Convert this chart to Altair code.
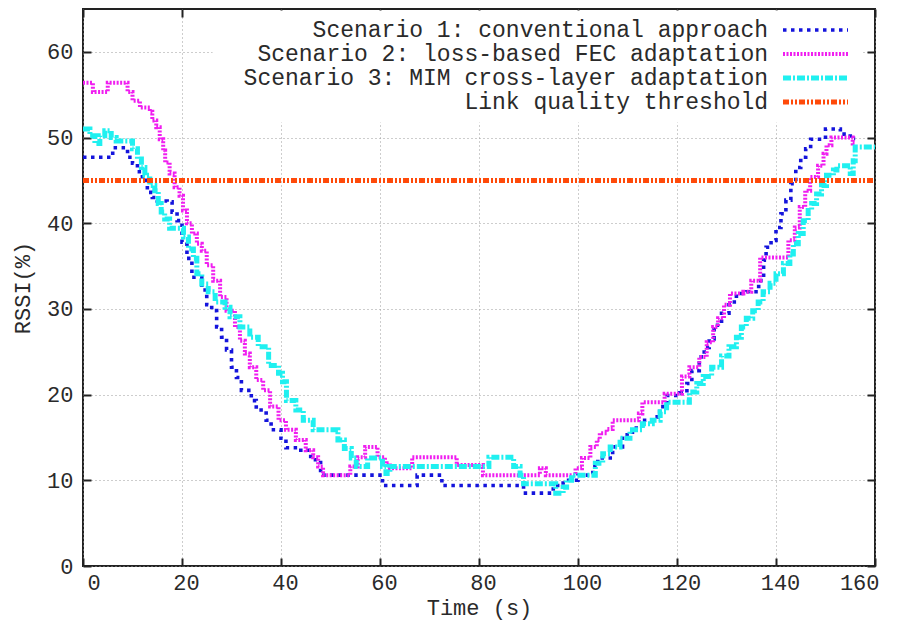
import altair as alt
import pandas as pd

names = [
    "Scenario 1: conventional approach",
    "Scenario 2: loss-based FEC adaptation",
    "Scenario 3: MIM cross-layer adaptation",
    "Link quality threshold",
]

s1_t = [0, 6, 9, 10, 11, 12, 13, 14, 15, 17, 18, 19, 20, 21, 22, 24, 25, 26, 27, 28, 29, 30, 31, 32,
        34, 35, 37, 38, 40, 41, 44, 46, 48, 60.5, 67.5, 72.5, 89, 95, 97, 100, 103, 104, 107, 109, 111,
        113, 115, 116.5, 118, 120.5, 122, 123, 124.5, 125.5, 126.5, 127.5, 129, 130.5, 132, 134, 136.5,
        137.5, 138, 139, 140, 141, 142, 143, 144, 145, 146, 147, 150, 153, 155, 156]
s1_v = [47.7, 48.8, 47.7, 47.0, 46.0, 45.0, 43.6, 43.0, 42.6, 42.5, 41.3, 40.3, 37.8, 35.9, 33.7, 32.2,
        30.5, 29.8, 27.9, 26.7, 25.2, 23.2, 22.0, 20.5, 19.3, 18.2, 17.0, 15.9, 14.9, 13.8, 13.5, 12.4,
        10.6, 9.4, 10.6, 9.4, 8.5, 9.4, 10.0, 10.6, 11.6, 12.6, 13.9, 15.3, 16.1, 17.0, 17.4, 18.6, 19.9,
        20.2, 21.3, 22.8, 24.4, 25.5, 26.5, 28.1, 29.5, 30.8, 31.8, 32.0, 33.3, 35.7, 37.2, 38.0, 39.5,
        41.1, 42.7, 44.6, 46.5, 47.7, 48.7, 49.8, 51.0, 50.4, 49.9, 49.9]

s2_t = [0, 2, 5, 9, 10, 11.5, 13.5, 14, 14.8, 15.5, 16.2, 16.6, 17.5, 18.5, 19.5, 20.2, 21, 22, 23, 24,
        25, 26.3, 27.7, 29, 30.7, 31.7, 32.7, 33.7, 35, 36.4, 37.8, 39.5, 41, 43, 45, 46.5, 47.5, 48.5,
        54, 55.5, 57, 59.5, 61, 62, 66.5, 75.5, 80.8, 92.3, 93.5, 99.5, 100.8, 102.5, 103.8, 104.4,
        105.8, 107, 112.3, 113, 117.5, 121, 122.5, 124.5, 126, 127.3, 128.3, 129.5, 130.7, 133.4, 135,
        136.8, 142.5, 143.8, 144.8, 145.9, 146.9, 148.5, 149.6, 150.2, 151.2, 155.5, 156]
s2_v = [56.4, 55.3, 56.4, 55.3, 54.3, 53.5, 53.0, 52.0, 51.2, 49.8, 48.5, 47.1, 45.8, 44.2, 43.2, 41.5,
        40.0, 38.8, 37.6, 36.8, 35.1, 33.3, 31.4, 29.8, 27.9, 26.3, 24.8, 23.2, 21.7, 20.5, 18.6, 17.0,
        15.9, 14.7, 13.5, 12.7, 11.6, 10.6, 11.6, 12.7, 13.9, 12.7, 12.0, 11.4, 12.7, 11.8, 10.6, 11.4,
        10.6, 11.4, 12.6, 13.9, 14.7, 15.5, 16.0, 17.0, 17.8, 19.1, 20.1, 22.1, 23.2, 24.4, 26.1, 27.9,
        28.9, 30.5, 31.8, 32.0, 33.3, 36.0, 38.0, 39.5, 41.9, 43.8, 45.4, 46.7, 48.1, 49.1, 50.0, 49.3,
        49.3]

s3_t = [0, 1.4, 2.4, 3.4, 4.4, 5.7, 6.7, 7.7, 10, 11, 11.8, 12.5, 13.5, 14.5, 15.2, 15.8, 16.5, 17.5,
        20.3, 21.3, 22.3, 23, 24, 25.3, 26.7, 28.7, 29.7, 31.7, 33.7, 35.4, 37.5, 39.5, 40.3, 41.1, 43,
        44.5, 46.5, 51.5, 52.8, 54.2, 55.2, 57.5, 60.5, 61.2, 62, 82, 87, 88.3, 89, 95.5, 97, 97.7, 98.7,
        103.5, 105, 106.5, 108.5, 110.5, 113, 115, 116.6, 117.9, 122.5, 124, 125.3, 127, 129, 130.5, 132,
        133, 134, 135.3, 136.4, 137.4, 138.8, 140, 141.5, 142.8, 143.5, 144.5, 145.5, 146.5, 147.2, 148.2,
        149.2, 150.2, 151.6, 152.3, 155, 155.6, 156, 160]
s3_v = [51.0, 50.2, 49.3, 50.2, 50.8, 50.0, 49.6, 49.6, 48.7, 47.5, 46.5, 45.6, 44.4, 43.8, 42.3, 41.3,
        40.5, 39.4, 38.4, 37.0, 35.9, 34.1, 32.9, 32.0, 30.8, 30.2, 29.1, 27.9, 26.7, 25.6, 23.4, 22.5,
        21.5, 19.3, 18.2, 17.0, 15.9, 14.7, 13.7, 12.6, 11.6, 12.6, 11.6, 10.8, 11.6, 12.7, 11.6, 10.6,
        9.6, 8.5, 9.2, 10.0, 10.6, 12.0, 13.1, 13.9, 14.9, 15.9, 16.6, 17.0, 18.0, 19.1, 20.3, 21.3, 22.1,
        23.2, 24.5, 25.6, 26.7, 27.9, 28.9, 29.8, 30.8, 32.0, 33.0, 34.1, 35.3, 36.4, 37.6, 38.8, 40.3,
        41.5, 42.3, 43.4, 44.4, 45.6, 46.2, 46.7, 45.8, 47.3, 48.9, 48.9]

thr_t = [0, 160]
thr_v = [45, 45]

x_ticks = [0, 20, 40, 60, 80, 100, 120, 140, 160]
y_ticks = [0, 10, 20, 30, 40, 50, 60]

colors = ["#1414dc", "#f01ef0", "#20f0f0", "#ff4a0a"]
dashes = [[3.5, 4.5], [2, 1.5], [8, 2, 2, 2], [6, 2, 2, 2, 2, 2]]
widths = [3.6, 4, 5, 5]

rows = []
for name, ts, vs in zip(names, [s1_t, s2_t, s3_t, thr_t], [s1_v, s2_v, s3_v, thr_v]):
    for t, v in zip(ts, vs):
        rows.append({"time": t, "rssi": v, "series": name, "label": name})
df = pd.DataFrame(rows)

FONT = "Liberation Mono"
TXT = "#2a2a2a"
NB = "\u00a0"
ZW = "\u200b"
maxlen = max(len(n) for n in names)

# legend A: line samples only (right column)
legend_sym = alt.Legend(
    title=None, orient="none", legendX=689.5, legendY=1.5,
    symbolType="stroke", symbolSize=4225, symbolOffset=0,
    labelExpr="''", labelFontSize=23,
    fillColor="white", padding=8, clipHeight=23, rowPadding=0,
)

# legend B: right-aligned texts (monospace, left-padded), white box behind them
legend_txt = alt.Legend(
    title=None, orient="none", legendX=129.6, legendY=1.5,
    symbolType="circle", symbolSize=0, symbolOpacity=0, symbolStrokeWidth=0,
    labelAlign="left", labelOffset=0, labelBaseline="middle",
    labelExpr="'" + ZW + "' + pad(datum.label, " + str(maxlen) + ", '" + NB + "', 'left')",
    labelFont=FONT, labelFontSize=23, labelColor=TXT, labelLimit=900,
    fillColor="white", padding=8, rowPadding=0,
)

xs = alt.Scale(domain=[0, 160], nice=False)
ys = alt.Scale(domain=[0, 65], nice=False)

lines = alt.Chart(df).mark_line(interpolate="step-after").encode(
    x=alt.X("time:Q", scale=xs, axis=alt.Axis(
        orient="bottom", values=x_ticks, title="Time (s)", offset=-8, tickSize=8,
        domain=False, grid=True, labelPadding=6, labelOffset=4, titlePadding=4)),
    y=alt.Y("rssi:Q", scale=ys, axis=alt.Axis(
        orient="left", values=y_ticks, title="RSSI(%)", offset=-8, tickSize=8,
        domain=False, grid=True, labelPadding=10, titlePadding=12)),
    color=alt.Color("series:N", scale=alt.Scale(domain=names, range=colors), legend=legend_sym),
    strokeDash=alt.StrokeDash("series:N", scale=alt.Scale(domain=names, range=dashes), legend=legend_sym),
    strokeWidth=alt.StrokeWidth("series:N", scale=alt.Scale(type="ordinal", domain=names, range=widths),
                                legend=legend_sym),
)

mirror = alt.Chart(df).mark_point(opacity=0).encode(
    x=alt.X("time:Q", scale=xs, axis=alt.Axis(
        orient="top", values=x_ticks, title=None, labels=False, offset=-8, tickSize=8,
        domain=False, grid=False)),
    y=alt.Y("rssi:Q", scale=ys, axis=alt.Axis(
        orient="right", values=y_ticks, title=None, labels=False, offset=-8, tickSize=8,
        domain=False, grid=False)),
    shape=alt.Shape("label:N", sort=names, legend=legend_txt),
)

chart = alt.layer(lines, mirror).resolve_axis(x="independent", y="independent").properties(
    width=792, height=557,
    autosize=alt.AutoSizeParams(type="none"),
    padding={"left": 75, "top": 1, "right": 21, "bottom": 54},
).configure_view(stroke="#222222", strokeWidth=2).configure_axis(
    labelFont=FONT, labelFontSize=22, labelColor=TXT,
    titleFont=FONT, titleFontSize=22, titleFontWeight="normal", titleColor=TXT,
    tickColor="#222222", tickWidth=2,
    gridColor="#9a9a9a", gridDash=[1, 3], gridWidth=1,
)

chart.save("out.html", embed_options={"renderer": "svg", "actions": False})
